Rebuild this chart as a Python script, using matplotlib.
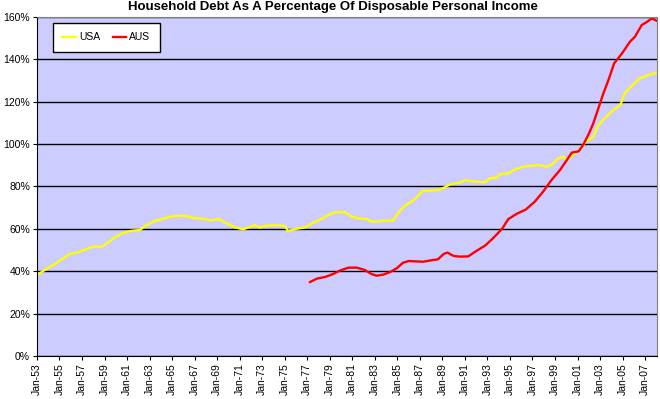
import matplotlib.pyplot as plt
from matplotlib.ticker import FixedLocator, PercentFormatter

plt.rcParams['font.family'] = ['Liberation Sans', 'DejaVu Sans']

# values (year as decimal, % of disposable income)
usa_year = [1953.0, 1953.7, 1954.45, 1955.2, 1955.9, 1956.8, 1957.55, 1958.0, 1958.75,
            1959.3, 1959.9, 1960.7, 1961.3, 1962.15, 1962.6, 1963.5, 1964.2, 1965.1,
            1966.3, 1966.9, 1967.9, 1968.4, 1969.1, 1969.85, 1970.6, 1971.3, 1971.8,
            1972.35, 1972.8, 1973.25, 1974.1, 1975.0, 1975.3, 1976.0, 1976.8, 1977.4,
            1978.1, 1978.7, 1979.45, 1980.35, 1980.8, 1981.4, 1982.3, 1982.7, 1983.3,
            1983.6, 1984.65, 1984.95, 1985.5, 1986.0, 1986.4, 1986.9, 1987.3, 1988.05,
            1988.8, 1989.4, 1989.8, 1990.55, 1991.0, 1991.9, 1992.8, 1993.2, 1993.8,
            1994.1, 1994.85, 1995.45, 1996.2, 1997.5, 1998.3, 1998.85, 1999.3, 1999.75,
            2000.05, 2000.5, 2001.2, 2001.8, 2002.4, 2002.85, 2003.6, 2004.2, 2004.8,
            2005.2, 2005.65, 2006.55, 2007.3, 2008.0]
usa_pct = [38.2, 40.6, 43.0, 45.6, 48.1, 49.2, 50.8, 51.6, 51.6,
           53.5, 56.0, 58.2, 59.0, 59.5, 61.4, 63.9, 64.7, 66.1,
           66.1, 65.1, 64.7, 63.9, 64.7, 62.6, 60.7, 59.8, 60.7,
           61.8, 60.6, 61.4, 61.8, 61.4, 59.0, 60.0, 60.7, 62.6,
           64.2, 66.1, 67.8, 68.0, 66.2, 65.0, 64.7, 63.4, 63.4,
           63.9, 63.9, 66.6, 70.2, 72.1, 73.3, 76.0, 78.0, 78.0,
           78.5, 80.2, 81.2, 81.8, 83.1, 82.3, 82.0, 83.9, 84.2,
           85.8, 86.2, 88.1, 89.3, 90.1, 89.3, 90.9, 93.3, 94.1,
           92.5, 94.5, 97.6, 101.5, 103.5, 109.0, 113.3, 116.1, 118.5,
           124.0, 126.7, 131.1, 132.6, 133.7]

aus_year = [1977.25, 1977.85, 1978.6, 1979.3, 1979.9, 1980.65, 1981.4, 1982.1, 1982.7,
            1983.15, 1983.75, 1984.35, 1984.95, 1985.5, 1986.0, 1987.3, 1988.05, 1988.6,
            1989.1, 1989.45, 1990.0, 1990.55, 1991.3, 1992.05, 1992.8, 1993.5, 1994.3,
            1994.85, 1995.6, 1996.4, 1997.2, 1997.95, 1998.7, 1999.45, 2000.05, 2000.5,
            2001.1, 2001.5, 2002.0, 2002.4, 2002.8, 2003.3, 2003.75, 2004.25, 2004.95,
            2005.65, 2006.1, 2006.7, 2007.2, 2007.6, 2008.0]
aus_pct = [34.9, 36.5, 37.3, 38.7, 40.3, 41.7, 41.7, 40.6, 38.7,
           37.9, 38.4, 39.6, 41.4, 44.0, 44.8, 44.5, 45.2, 45.6,
           48.1, 48.8, 47.2, 46.9, 47.0, 49.7, 52.1, 55.6, 60.0,
           64.6, 67.1, 69.1, 72.8, 77.6, 83.1, 87.8, 92.5, 96.0,
           96.6, 99.6, 104.8, 109.8, 116.1, 124.0, 130.3, 138.1, 142.8,
           148.3, 150.7, 156.2, 157.8, 159.4, 158.3]

tick_years = list(range(1953, 2008, 2))
tick_labels = ['Jan-%02d' % (y % 100) for y in tick_years]

fig = plt.figure(figsize=(6.6, 3.99), dpi=100)
ax = fig.add_axes([0.056, 0.1078, 0.9395, 0.8496])
ax.set_facecolor('#CCCCFF')

ax.plot(usa_year, usa_pct, color='#FFFF00', linewidth=1.7, label='USA')
ax.plot(aus_year, aus_pct, color='#FF0000', linewidth=1.7, label='AUS')

ax.set_xlim(1953.0, 2008.06)
ax.set_ylim(0, 160)
ax.yaxis.set_major_locator(FixedLocator(range(0, 161, 20)))
ax.yaxis.set_major_formatter(PercentFormatter(decimals=0))
ax.set_xticks(tick_years)
ax.set_xticklabels(tick_labels, rotation=90)
ax.grid(axis='y', color='black', linewidth=1)
ax.set_axisbelow(True)
ax.tick_params(labelsize=7.5, length=3, width=0.8, pad=2)

ax.spines['left'].set_color('black')
ax.spines['bottom'].set_color('black')
ax.spines['top'].set_color('#808080')
ax.spines['right'].set_color('#808080')

# title is centred on the whole chart, not on the plot area
fig.text(0.5045, 0.982, 'Household Debt As A Percentage Of Disposable Personal Income',
         fontsize=9.5, fontweight='bold', ha='center', va='center')

leg = ax.legend(loc='upper left', bbox_to_anchor=(0.026, 0.982), ncol=2,
                fontsize=7.5, frameon=True, fancybox=False, framealpha=1,
                edgecolor='black', borderaxespad=0, handlelength=1.3,
                handletextpad=0.3, columnspacing=1.2, borderpad=0.9)
leg.get_frame().set_linewidth(1)

fig.savefig('out.png', dpi=100)
